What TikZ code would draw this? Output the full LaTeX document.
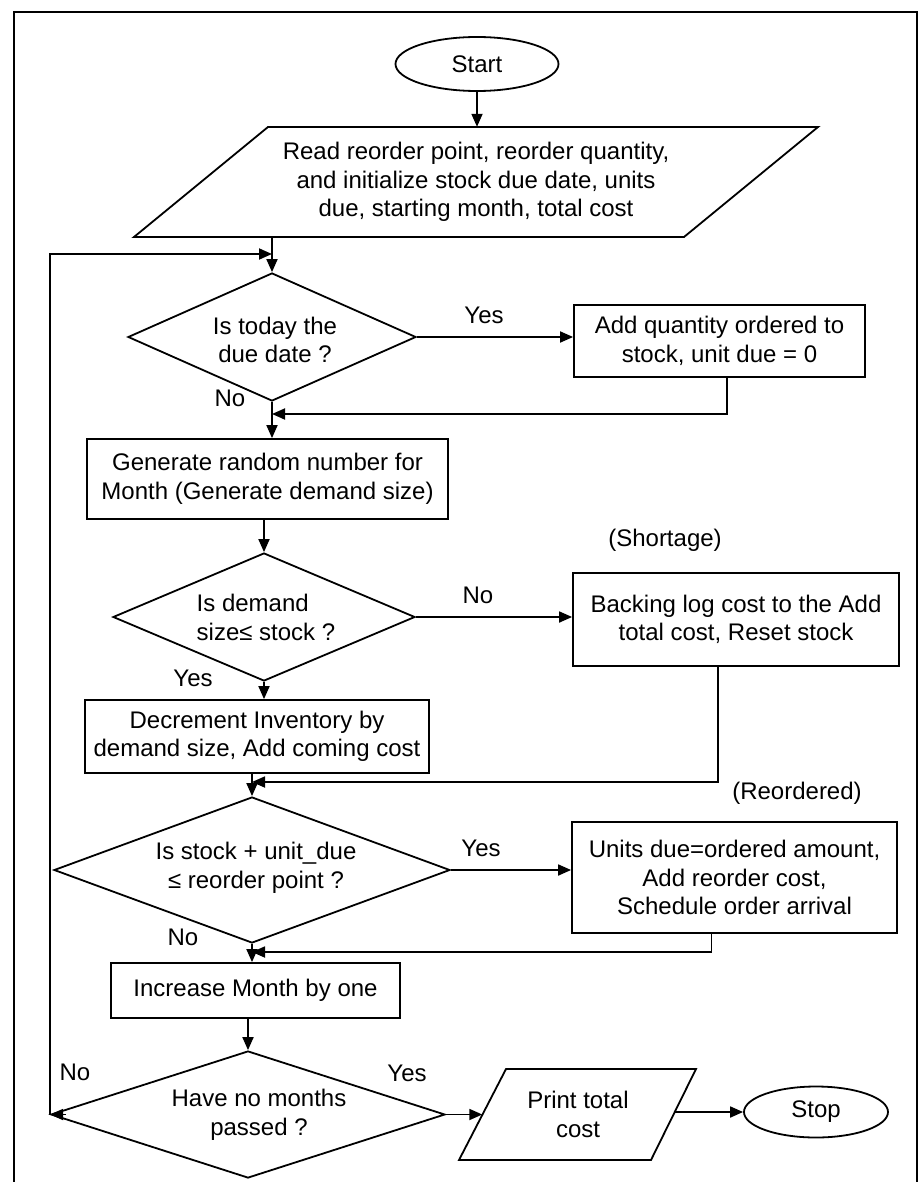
\documentclass[tikz,border=0pt]{standalone}
\usepackage{fontspec}
\setmainfont{Liberation Sans}
\usetikzlibrary{shapes.geometric,arrows.meta}
\begin{document}
\begin{tikzpicture}[x=1pt,y=-1pt,
  every node/.style={font=\fontsize{24}{28.5}\selectfont},
  line/.style={line width=1.8pt},
  arrow/.style={line width=1.8pt,-{Triangle[length=13pt,width=11pt]}},
  procbox/.style={draw,line width=1.8pt,rectangle,align=center,inner sep=2pt},
  decision/.style={draw,line width=1.8pt,diamond,inner sep=0pt},
  terminal/.style={draw,line width=1.8pt,ellipse,inner sep=0pt},
  iotext/.style={align=center,inner sep=0pt},
  lbl/.style={inner sep=0pt}
]
\useasboundingbox (0,0) rectangle (919,1182);

% outer frame
\draw[line] (14,1182) -- (14,12) -- (917,12) -- (917,1182);

% start and input
\node[terminal, minimum width=163pt, minimum height=54pt] (start) at (477,64) {Start};
\draw[line] (268,127) -- (818,127) -- (684,237) -- (134,237) -- cycle;
\node[iotext, minimum height=110pt] (read) at (476,182)
  {Read reorder point, reorder quantity,\\ and initialize stock due date, units\\ due, starting month, total cost};

% due date check
\node[decision, minimum width=288pt, minimum height=128pt] (d1) at (272,337) {};
\node[iotext] (d1t) at (275,340) {Is today the\\due date ?};
\node[procbox, minimum width=291pt, minimum height=72pt] (b1) at (719.5,341)
  {Add quantity ordered to\\stock, unit due = 0};

% demand generation
\node[procbox, minimum width=361pt, minimum height=80pt] (b2) at (267.5,479)
  {Generate random number for\\Month (Generate demand size)};

% demand vs stock
\node[decision, minimum width=302pt, minimum height=128pt] (d2) at (264,617) {};
\node[align=left, inner sep=0pt] (d2t) at (266,617.5) {Is demand\\size≤ stock ?};
\node[procbox, minimum width=326pt, minimum height=93pt] (b3) at (736,619.5)
  {Backing log cost to the Add\\total cost, Reset stock};
\node[procbox, minimum width=344pt, minimum height=73pt] (b4) at (257,736.5)
  {Decrement Inventory by\\demand size, Add coming cost};

% reorder check
\node[decision, minimum width=396pt, minimum height=146pt] (d3) at (252,870) {};
\node[iotext] (d3t) at (256,868) {Is stock + unit\_due\\≤ reorder point ?};
\node[procbox, minimum width=325pt, minimum height=111pt] (b5) at (734.5,877.5)
  {Units due=ordered amount,\\Add reorder cost,\\Schedule order arrival};

\node[procbox, minimum width=289pt, minimum height=55pt] (b6) at (255.5,990.5)
  {Increase Month by one};

% end check and output
\node[decision, minimum width=394pt, minimum height=127pt] (d4) at (248,1114.5) {};
\node[iotext] (d4t) at (259,1115) {Have no months\\passed ?};
\draw[line] (506,1069) -- (696,1069) -- (651,1160) -- (459,1160) -- cycle;
\node[iotext, minimum width=191pt, minimum height=91pt] (p2) at (578,1114.5) {Print total\\cost};
\node[terminal, minimum width=144pt, minimum height=51pt] (stop) at (816,1112) {Stop};

% junction levels
\coordinate (j1) at (0,414);
\coordinate (j2) at (0,782);
\coordinate (j3) at (0,952);
\coordinate (loop) at (0,254);

% connectors
\draw[arrow] (start.south) -- (start.south |- read.north);
\draw[arrow] (read.south -| d1.north) -- (d1.north);
\draw[arrow] (d1.east) -- (d1.east -| b1.west);
\draw[arrow] ([xshift=7.5pt]b1.south) |- (d1.south |- j1);
\draw[arrow] (d1.south) -- (d1.south |- b2.north);
\draw[arrow] (b2.south -| d2.north) -- (d2.north);
\draw[arrow] (d2.east) -- (d2.east -| b3.west);
\draw[arrow] (d2.south) -- (d2.south |- b4.north);
\draw[arrow] ([xshift=-18pt]b3.south) |- (d3.north |- j2);
\draw[arrow] (b4.south -| d3.north) -- (d3.north);
\draw[arrow] (d3.east) -- (d3.east -| b5.west);
\draw[arrow] ([xshift=-23pt]b5.south) |- (d3.south |- j3);
\draw[arrow] (d3.south) -- (d3.south |- b6.north);
\draw[arrow] (b6.south -| d4.north) -- (d4.north);
\draw[arrow] ([xshift=16pt]d4.west) -- (d4.west);
\draw[arrow] (d4.west) -- (d4.west |- loop) -- (d1.north |- loop);
\draw[arrow] (d4.east) -- (p2.west);
\draw[arrow] (p2.east |- stop) -- (stop.west);

% branch labels
\node[lbl] (y1) at (484,315) {Yes};
\node[lbl] (n1) at (230,398) {No};
\node[lbl] (sh) at (665,540) {(Shortage)};
\node[lbl] (n2) at (478,595) {No};
\node[lbl] (y2) at (193,678) {Yes};
\node[lbl] (ro) at (797,793) {(Reordered)};
\node[lbl] (y3) at (481,848) {Yes};
\node[lbl] (n3) at (183,937) {No};
\node[lbl] (n4) at (75,1072) {No};
\node[lbl] (y4) at (407,1073) {Yes};
\end{tikzpicture}
\end{document}
